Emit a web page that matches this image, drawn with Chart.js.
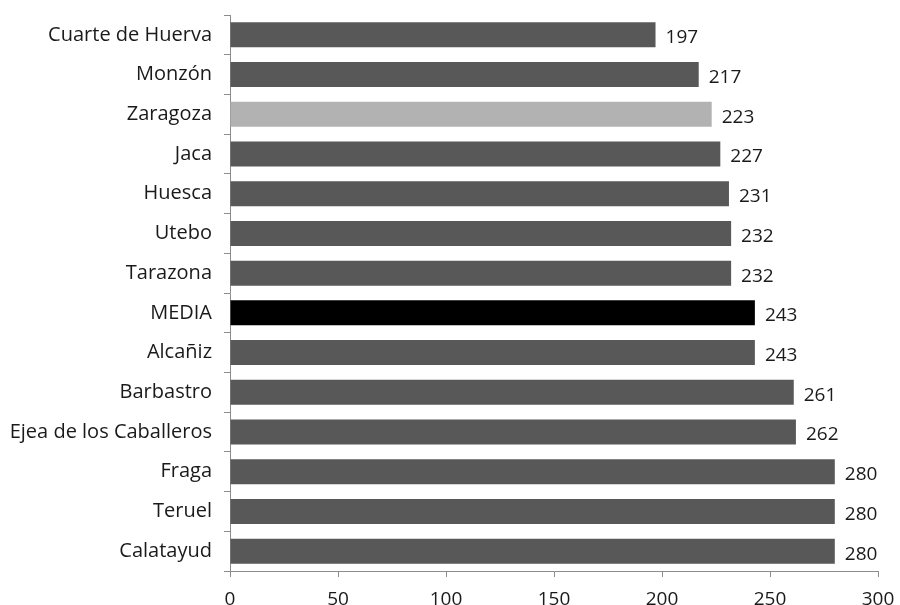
<!DOCTYPE html>
<html>
<head>
<meta charset="utf-8">
<script src="https://cdn.jsdelivr.net/npm/chart.js@4/dist/chart.umd.min.js"></script>
<style>
  html, body { margin: 0; padding: 0; background: #fff; }
  #wrap { width: 900px; height: 605px; }
</style>
</head>
<body>
<div id="wrap"><canvas id="c" width="900" height="605"></canvas></div>
<script>
// Municipalities, ordered as shown from top to bottom
const categories = [
  'Cuarte de Huerva', 'Monzón', 'Zaragoza', 'Jaca', 'Huesca', 'Utebo',
  'Tarazona', 'MEDIA', 'Alcañiz', 'Barbastro', 'Ejea de los Caballeros',
  'Fraga', 'Teruel', 'Calatayud'
];
const values = [197, 217, 223, 227, 231, 232, 232, 243, 243, 261, 262, 280, 280, 280];
const xTicks = [0, 50, 100, 150, 200, 250, 300];

const FONT = 'Open Sans';
const barColors = categories.map(c =>
  c === 'MEDIA' ? '#000000' : (c === 'Zaragoza' ? '#b2b2b2' : '#585858'));

// Writes each bar's value just past its end
const valueLabels = {
  id: 'valueLabels',
  afterDatasetsDraw(chart) {
    const ctx = chart.ctx;
    const meta = chart.getDatasetMeta(0);
    ctx.save();
    ctx.font = '19px "' + FONT + '"';
    ctx.fillStyle = '#1a1a1a';
    ctx.textAlign = 'left';
    ctx.textBaseline = 'middle';
    meta.data.forEach((bar, i) => {
      ctx.fillText(String(values[i]), bar.x + 10, bar.y + 3);
    });
    ctx.restore();
  }
};

new Chart(document.getElementById('c'), {
  type: 'bar',
  data: {
    labels: categories,
    datasets: [{
      data: values,
      backgroundColor: barColors,
      borderWidth: 0,
      categoryPercentage: 1.0,
      barPercentage: 0.63
    }]
  },
  options: {
    indexAxis: 'y',
    responsive: false,
    animation: false,
    layout: { padding: { top: 15, right: 22, left: 0, bottom: 0 } },
    plugins: { legend: { display: false }, tooltip: { enabled: false } },
    scales: {
      x: {
        min: 0, max: 300,
        afterBuildTicks(scale) { scale.ticks = xTicks.map(v => ({ value: v })); },
        afterFit(scale) {
          scale.height = 34;
          scale.paddingLeft = 0;
          scale.paddingRight = 0;
        },
        grid: { drawOnChartArea: false, drawTicks: true, tickLength: 6, color: '#8c8c8c' },
        border: { color: '#8c8c8c', width: 1 },
        ticks: { color: '#1a1a1a', font: { family: FONT, size: 19 }, padding: 11, maxRotation: 0 }
      },
      y: {
        afterFit(scale) {
          scale.width = 230;
          scale.paddingTop = 0;
          scale.paddingBottom = 0;
        },
        grid: { offset: true, drawOnChartArea: false, drawTicks: true, tickLength: 6, color: '#8c8c8c' },
        border: { color: '#8c8c8c', width: 1 },
        ticks: { color: '#1a1a1a', font: { family: FONT, size: 20 }, padding: 12, autoSkip: false }
      }
    }
  },
  plugins: [valueLabels]
});
</script>
</body>
</html>
